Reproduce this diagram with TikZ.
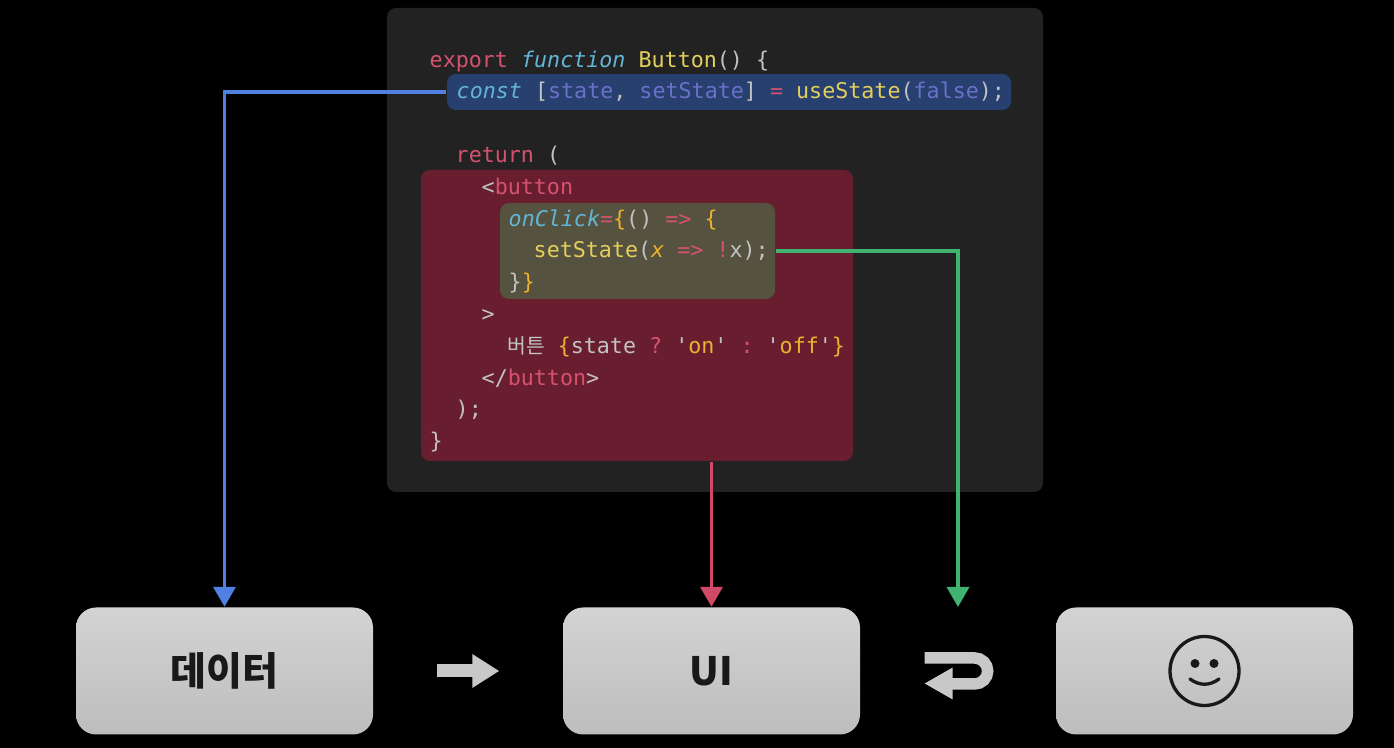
\documentclass[tikz,border=0pt]{standalone}
\usepackage{fontspec}
\setmonofont{DejaVu Sans Mono}
\newfontfamily\krfont{Noto Sans CJK KR}
\usetikzlibrary{arrows.meta,positioning,calc}
\definecolor{kwcol}{HTML}{D4526F}
\definecolor{itcol}{HTML}{62B5D6}
\definecolor{fncol}{HTML}{E3CF5C}
\definecolor{vrcol}{HTML}{6C70C8}
\definecolor{brcol}{HTML}{EDB02F}
\definecolor{txcol}{HTML}{C2C2C2}
\definecolor{panelcol}{HTML}{222222}
\definecolor{statecol}{HTML}{27406F}
\definecolor{viewcol}{HTML}{691E30}
\definecolor{setcol}{HTML}{55523F}
\definecolor{boxtop}{HTML}{D3D3D3}
\definecolor{boxbot}{HTML}{BDBDBD}
\definecolor{glyphcol}{HTML}{C8C8C8}
\definecolor{bluecol}{HTML}{5080E0}
\definecolor{redcol}{HTML}{D04A68}
\definecolor{greencol}{HTML}{3FB36F}
\newcommand{\kw}[1]{\textcolor{kwcol}{#1}}
\newcommand{\itk}[1]{\textcolor{itcol}{\itshape #1}}
\newcommand{\fn}[1]{\textcolor{fncol}{#1}}
\newcommand{\vr}[1]{\textcolor{vrcol}{#1}}
\newcommand{\br}[1]{\textcolor{brcol}{#1}}
\begin{document}
\begin{tikzpicture}[
    panel/.style={fill=#1, rounded corners=0.09cm, inner sep=0pt},
    codeline/.style={anchor=base west, inner sep=0pt, text=txcol, font=\ttfamily\fontsize{6.17}{7}\selectfont},
    stagebox/.style={rounded corners=0.2cm, minimum width=2.97cm, minimum height=1.27cm, inner sep=0pt, top color=boxtop, bottom color=boxbot, text=black!90, font=\krfont\bfseries\fontsize{11.1}{13}\selectfont},
    flow/.style={-{Triangle[length=0.2cm,width=0.22cm]}, line width=0.036cm, draw=#1},
    bigarrow/.style={-{Triangle[length=0.27cm,width=0.32cm]}, line width=0.13cm, draw=glyphcol},
    facepen/.style={line width=0.033cm, draw=black!90, line cap=round}
  ]
    \useasboundingbox (0,0) rectangle (13.94,7.48);
    \fill[black] (0,0) rectangle (13.94,7.48);

    \node[panel=panelcol, minimum width=6.56cm, minimum height=4.84cm] (code) at (7.15,4.98) {};
    \node[panel=statecol, minimum width=5.64cm, minimum height=0.36cm] (hlstate) at (7.29,6.56) {};
    \node[panel=viewcol, minimum width=4.32cm, minimum height=2.91cm] (hlview) at (6.37,4.325) {};
    \node[panel=setcol, minimum width=2.75cm, minimum height=0.96cm] (hlset) at (6.375,4.97) {};

    \node[codeline] (l1) at (4.29,6.80) {\kw{export} \itk{function} \fn{Button}() \{};
    \node[codeline] (l2) at (4.56,6.49) {\itk{const} [\vr{state}, \vr{setState}] \kw{=} \fn{useState}(\vr{false});};
    \node[codeline] (l3) at (4.55,5.85) {\kw{return} (};
    \node[codeline] (l4) at (4.81,5.53) {<\kw{button}};
    \node[codeline] (l5) at (5.08,5.21) {\itk{onClick}\kw{=}\br{\{}() \kw{=>} \br{\{}};
    \node[codeline] (l6) at (5.33,4.90) {\fn{setState}(\textcolor{brcol}{\itshape x} \kw{=>} \kw{!}x);};
    \node[codeline] (l7) at (5.08,4.58) {\}\br{\}}};
    \node[codeline] (l8) at (4.81,4.26) {>};
    \node[codeline] (l9) at (5.07,3.94) {\makebox[0.37cm][l]{\krfont\fontsize{5.8}{7}\selectfont 버튼} \br{\{}state \kw{?} \textquotesingle\br{on}\textquotesingle{} \kw{:} \textquotesingle\br{off}\textquotesingle\br{\}}};
    \node[codeline] (l10) at (4.81,3.62) {</\kw{button}>};
    \node[codeline] (l11) at (4.55,3.31) {);};
    \node[codeline] (l12) at (4.29,2.99) {\}};

    \node[stagebox] (data) at (2.245,0.77) {데이터};
    \node[stagebox] (ui) at (7.115,0.77) {UI};
    \node[stagebox] (face) at (12.045,0.77) {};
    \coordinate (loopin) at (9.58,1.41);

    \draw[flow=bluecol] (hlstate.west) -| (data.north);
    \draw[flow=redcol] (hlview.south -| ui.north) -- (ui.north);
    \draw[flow=greencol] (hlset.east) -| (loopin);

    \draw[bigarrow] ([xshift=0.63cm]data.east) -- ([xshift=-0.63cm]ui.west);
    \draw[line width=0.115cm, draw=glyphcol] ([shift={(0.64,0.13)}]ui.east) -- ++(0.5,0) arc[start angle=90, end angle=-90, radius=0.13] -- ++(-0.3,0);
    \fill[glyphcol] ([shift={(0.64,-0.125)}]ui.east) -- ++(0.28,0.16) -- ++(0,-0.32) -- cycle;

    \draw[facepen] (face.center) circle[radius=0.345];
    \fill[black!90] ([shift={(-0.095,0.075)}]face.center) circle[radius=0.045];
    \fill[black!90] ([shift={(0.095,0.075)}]face.center) circle[radius=0.045];
    \draw[facepen] ([shift={(-0.145,-0.08)}]face.center) .. controls ([shift={(-0.05,-0.15)}]face.center) and ([shift={(0.05,-0.15)}]face.center) .. ([shift={(0.145,-0.08)}]face.center);
  \end{tikzpicture}
\end{document}
